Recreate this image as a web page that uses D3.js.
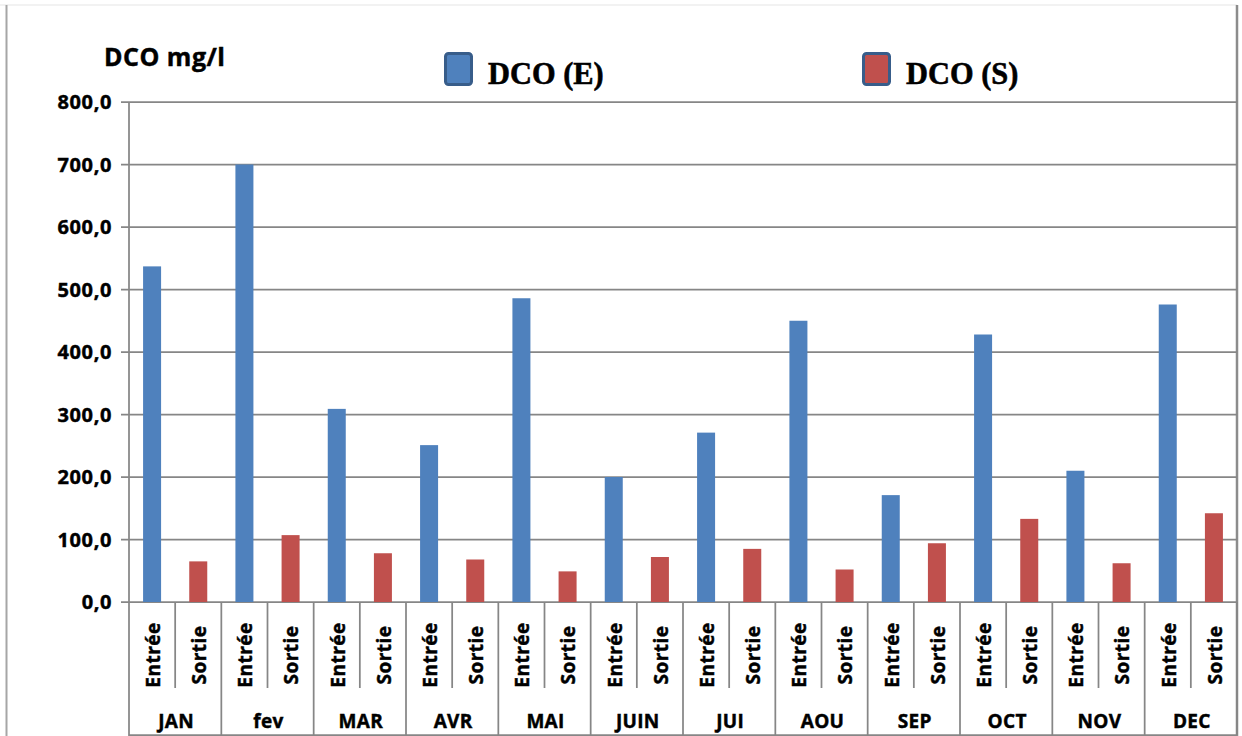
<!DOCTYPE html>
<html>
<head>
<meta charset="utf-8">
<script src="https://cdn.jsdelivr.net/npm/d3@7"></script>
<style>
  html, body { margin: 0; padding: 0; background: #fff; }
  svg text { font-family: "Open Sans", Lato, sans-serif; font-weight: bold; fill: #000; }
  svg text.heavy { stroke: #000; stroke-width: 0.45px; }
</style>
</head>
<body>
<svg width="1242" height="736"></svg>
<script>
// months, sub categories and values
const months = ["JAN", "fev", "MAR", "AVR", "MAI", "JUIN", "JUI", "AOU", "SEP", "OCT", "NOV", "DEC"];
const subCats = ["Entrée", "Sortie"];
const dcoEntree = [537, 700, 309, 251, 486, 200, 271, 450, 171, 428, 210, 476];
const dcoSortie = [65, 107, 78, 68, 49, 72, 85, 52, 94, 133, 62, 142];
const yTicks = [0, 100, 200, 300, 400, 500, 600, 700, 800];
const legendLabels = ["DCO (E)", "DCO (S)"];
const colors = ["#4f81bd", "#c0504d"];

let svg = d3.select("svg"),
    width = +svg.attr("width"),
    height = +svg.attr("height");

const grid = "#868686";
const plotL = 129, plotR = 1237, plotT = 102, plotB = 602;
const subRow = 688, monthRow = 735;

const x = d3.scaleBand().domain(months).range([plotL, plotR]);
const xSub = d3.scaleBand().domain(subCats).range([0, x.bandwidth()]);
const y = d3.scaleLinear().domain([0, 800]).range([plotB, plotT]);

const rows = months.map((m, i) => ({ month: m, values: [dcoEntree[i], dcoSortie[i]] }));

// outer frame
svg.append("line").attr("x1", 0).attr("x2", plotR).attr("y1", 5).attr("y2", 5)
  .attr("stroke", "#eeeeee").attr("stroke-width", 1.5);
svg.append("line").attr("x1", 6.5).attr("x2", 6.5).attr("y1", 5).attr("y2", height)
  .attr("stroke", "#a6a6a6").attr("stroke-width", 2);
svg.append("line").attr("x1", plotR).attr("x2", plotR).attr("y1", 5).attr("y2", height)
  .attr("stroke", "#8c8c8c").attr("stroke-width", 2.5);

// gridlines + y labels
const yAxis = svg.append("g");
yAxis.selectAll("line.grid")
  .data(yTicks)
  .enter().append("line")
    .attr("class", "grid")
    .attr("x1", plotL - 8).attr("x2", plotR)
    .attr("y1", d => y(d)).attr("y2", d => y(d))
    .attr("stroke", grid).attr("stroke-width", 1.75);
yAxis.selectAll("text")
  .data(yTicks)
  .enter().append("text")
    .attr("class", "heavy")
    .attr("x", 112)
    .attr("y", d => y(d))
    .attr("dy", "0.36em")
    .attr("text-anchor", "end")
    .attr("font-size", 20)
    .attr("letter-spacing", 0.6)
    .text(d => d3.format(".1f")(d).replace(".", ","));

// y axis line, bottom line
svg.append("line").attr("x1", plotL).attr("x2", plotL).attr("y1", plotT).attr("y2", monthRow + 1)
  .attr("stroke", grid).attr("stroke-width", 1.75);
svg.append("line").attr("x1", plotL).attr("x2", plotR).attr("y1", monthRow).attr("y2", monthRow)
  .attr("stroke", grid).attr("stroke-width", 1.75);

// bars
const barW = xSub.bandwidth() * 0.39;
const groups = svg.selectAll("g.month")
  .data(rows)
  .enter().append("g")
    .attr("class", "month")
    .attr("transform", d => `translate(${x(d.month)},0)`);

groups.selectAll("rect")
  .data(d => d.values.map((v, j) => ({ key: subCats[j], value: v, j: j })))
  .enter().append("rect")
    .attr("x", d => xSub(d.key) + (xSub.bandwidth() - barW) / 2)
    .attr("y", d => y(d.value))
    .attr("width", barW)
    .attr("height", d => y(0) - y(d.value))
    .attr("fill", d => colors[d.j]);

// category separators
groups.append("line")
  .attr("x1", x.bandwidth()).attr("x2", x.bandwidth())
  .attr("y1", plotB).attr("y2", monthRow)
  .attr("stroke", grid).attr("stroke-width", 1.75);
groups.append("line")
  .attr("x1", xSub("Sortie")).attr("x2", xSub("Sortie"))
  .attr("y1", plotB).attr("y2", subRow)
  .attr("stroke", grid).attr("stroke-width", 1.75);

// sub labels (rotated)
groups.selectAll("text.sub")
  .data(subCats)
  .enter().append("text")
    .attr("class", "sub heavy")
    .attr("transform", d => `translate(${xSub(d) + xSub.bandwidth() / 2 + 1},655) rotate(-90)`)
    .attr("dy", "0.36em")
    .attr("text-anchor", "middle")
    .attr("font-size", 19)
    .attr("letter-spacing", 0.5)
    .text(d => d);

// month labels
groups.append("text")
  .attr("class", "heavy")
  .attr("x", x.bandwidth() / 2 + 1)
  .attr("y", 721)
  .attr("dy", "0.36em")
  .attr("text-anchor", "middle")
  .attr("font-size", 19)
  .attr("letter-spacing", 0.3)
  .text(d => d.month);

// y title
svg.append("text")
  .attr("class", "heavy")
  .attr("x", 104)
  .attr("y", 66)
  .attr("font-size", 25)
  .attr("letter-spacing", 0.5)
  .text("DCO mg/l");

// legend
const legendX = [444, 862];
const legend = svg.selectAll("g.legend")
  .data(legendLabels)
  .enter().append("g")
    .attr("class", "legend")
    .attr("transform", (d, i) => `translate(${legendX[i]},52)`);
legend.append("rect")
  .attr("x", 1.5).attr("y", 1.5)
  .attr("width", 26).attr("height", 31)
  .attr("rx", 3)
  .attr("fill", (d, i) => colors[i])
  .attr("stroke", "#385d8a")
  .attr("stroke-width", 3);
legend.append("text")
  .attr("transform", "translate(44,32) scale(0.95,1)")
  .style("font-family", "'Liberation Serif', 'Times New Roman', serif")
  .style("stroke", "#000")
  .style("stroke-width", "0.6px")
  .attr("font-size", 32)
  .text(d => d);
</script>
</body>
</html>
